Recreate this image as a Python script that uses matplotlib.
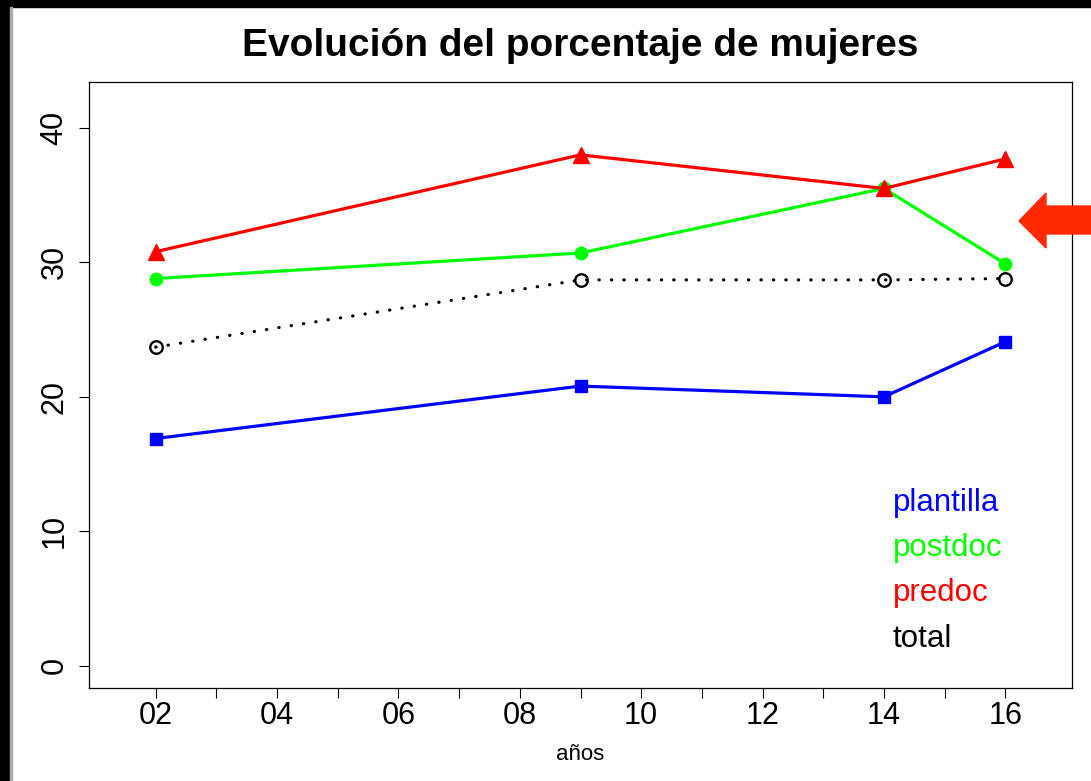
import matplotlib
matplotlib.use("Agg")
import matplotlib.pyplot as plt
from matplotlib.patches import Polygon, Rectangle

plt.rcParams["font.family"] = ["Liberation Sans", "DejaVu Sans"]

# years (two-digit) and percentage of women per group
years = [2, 9, 14, 16]
plantilla = [16.9, 20.8, 20.0, 24.1]
postdoc = [28.8, 30.7, 35.5, 29.9]
predoc = [30.8, 38.0, 35.5, 37.7]
total = [23.7, 28.7, 28.7, 28.8]

series_names = ["plantilla", "postdoc", "predoc", "total"]
series_colors = ["#0000ff", "#00ff00", "#ff0000", "black"]

x_ticks = list(range(2, 17))
x_labels = [f"{t:02d}" if t % 2 == 0 else "" for t in x_ticks]
y_ticks = [0, 10, 20, 30, 40]

W, H = 1091, 781
fig = plt.figure(figsize=(W / 100, H / 100), dpi=100)
ax = fig.add_axes([89 / W, 1 - 688 / H, (1072 - 89) / W, (688 - 82) / H])

ax.plot(years, plantilla, color=series_colors[0], lw=2.3, marker="s", ms=9,
        label=series_names[0])
ax.plot(years, postdoc, color=series_colors[1], lw=2.3, marker="o", ms=9,
        label=series_names[1])
ax.plot(years, predoc, color=series_colors[2], lw=2.3, marker="^", ms=11,
        label=series_names[2])
ax.plot(years, total, color=series_colors[3], lw=2.3, ls=(0, (0.1, 3.8)),
        dash_capstyle="round", marker="o", ms=9, mfc="none", mew=1.7,
        label=series_names[3])

ax.set_xlim(0.9, 17.1)
ax.set_ylim(-1.66, 43.42)
ax.set_xticks(x_ticks)
ax.set_xticklabels(x_labels, fontsize=22)
ax.set_yticks(y_ticks)
ax.set_yticklabels([str(v) for v in y_ticks], fontsize=22, rotation=90,
                   va="center")
ax.tick_params(length=7, width=0.8, direction="out")
ax.tick_params(axis="x", pad=2)
ax.tick_params(axis="y", pad=7)
for s in ax.spines.values():
    s.set_linewidth(0.9)

ax.set_xlabel("años", fontsize=16, labelpad=10)
ax.set_ylabel("% M", fontsize=16, labelpad=14)
ax.yaxis.set_label_coords(-0.071, 0.5)

fig.text(580 / W, 1 - 46 / H, "Evolución del porcentaje de mujeres",
         fontsize=28, fontweight="bold", ha="center", va="center")

leg = ax.legend(loc="upper left", bbox_to_anchor=(0.805, 0.351),
                frameon=False, fontsize=22.5, handlelength=0, handletextpad=0,
                labelcolor="linecolor", labelspacing=0.49, borderaxespad=0)
for h in leg.legend_handles:
    h.set_visible(False)

# red arrow pointing at the chart
arrow_px = [(1019, 221), (1046, 193), (1046, 206), (1095, 206),
            (1095, 234), (1046, 234), (1046, 248)]
arrow = Polygon([(px / W, 1 - py / H) for px, py in arrow_px], closed=True,
                transform=fig.transFigure, color="#ff2a00", zorder=10,
                clip_on=False)
fig.patches.append(arrow)

# black frame around the screenshot
fig.patches.append(Rectangle((0, 0), 10 / W, 1, transform=fig.transFigure,
                             color="black", zorder=10))
fig.patches.append(Rectangle((0, 1 - 7 / H), 1, 7 / H, transform=fig.transFigure,
                             color="black", zorder=10))
fig.patches.append(Rectangle((10 / W, 0), 1.5 / W, 1 - 7 / H,
                             transform=fig.transFigure, color="#aaaaaa", zorder=10))

fig.savefig("out.png", dpi=100)
